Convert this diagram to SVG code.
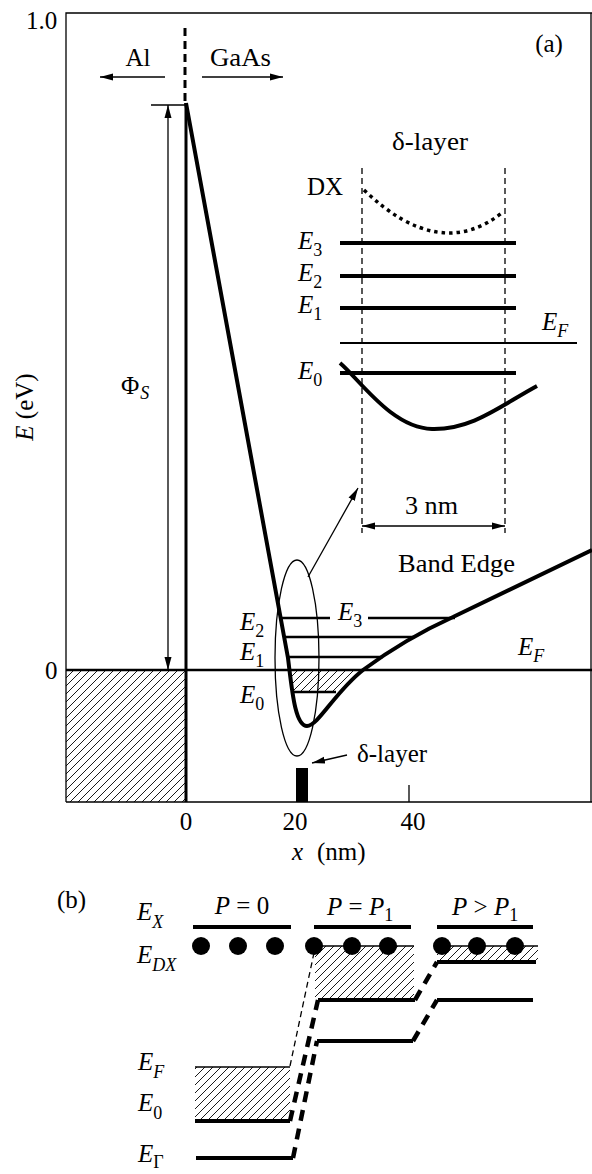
<svg xmlns="http://www.w3.org/2000/svg" width="592" height="1174" viewBox="0 0 592 1174">
<style>
text{font-family:"Liberation Serif","Times New Roman",serif;font-size:25px;fill:#000}
.it{font-style:italic}
.sub{font-size:18px}
.up{font-style:normal}
.thin{stroke:#000;stroke-width:1.3;fill:none}
.med{stroke:#000;stroke-width:2.5;fill:none}
.thick{stroke:#000;stroke-width:4;fill:none}
.dashv{stroke:#000;stroke-width:1.3;stroke-dasharray:6 4;fill:none}
.tdash{stroke:#000;stroke-width:4.5;stroke-dasharray:11 8;fill:none}
</style>
<defs>
<pattern id="hatch" patternUnits="userSpaceOnUse" width="8" height="8">
<path d="M-1,9 L9,-1 M-1,1 L1,-1 M7,9 L9,7" stroke="#000" stroke-width="0.9"/>
</pattern>
<marker id="arr" markerUnits="userSpaceOnUse" markerWidth="14" markerHeight="10" refX="13" refY="5" orient="auto-start-reverse">
<path d="M0,1.5 L13,5 L0,8.5 Z" fill="#000"/>
</marker>
</defs>

<g id="axes">
<path class="thin" d="M66,802 L66,13 L592,13 M591,13 L591,802 M66,802 L592,802"/>
<line class="thin" x1="409" y1="785" x2="409" y2="802"/>
<text x="26" y="29">1.0</text>
<text x="45" y="679">0</text>
<text x="186" y="830" text-anchor="middle">0</text>
<text x="295" y="830" text-anchor="middle">20</text>
<text x="413" y="830" text-anchor="middle">40</text>
<text x="292" y="860" class="it">x</text>
<text x="317" y="860">(nm)</text>
<text transform="translate(33,407) rotate(-90)" text-anchor="middle"><tspan class="it">E</tspan> (eV)</text>
<text x="549" y="52" text-anchor="middle">(a)</text>
</g>

<g id="fills">
<rect x="66" y="670" width="120" height="132" fill="url(#hatch)"/>
<polygon points="289,670 363,670 340,692 293,692" fill="url(#hatch)"/>
<rect x="195" y="1067" width="95" height="54" fill="url(#hatch)"/>
<rect x="315" y="946" width="99" height="54" fill="url(#hatch)"/>
<rect x="437" y="946" width="101" height="16" fill="url(#hatch)"/>
</g>

<g id="interface">
<line x1="185" y1="28" x2="185" y2="103" stroke="#000" stroke-width="3" stroke-dasharray="8 5"/>
<line x1="186" y1="103" x2="186" y2="802" stroke="#000" stroke-width="3"/>
<text x="138" y="66" text-anchor="middle">Al</text>
<text x="210" y="66" textLength="61" lengthAdjust="spacingAndGlyphs">GaAs</text>
</g>

<g id="phi">
<line class="thin" x1="151" y1="105" x2="186" y2="105"/>
<text x="121" y="394">Φ<tspan class="sub it" dx="1" dy="5">S</tspan></text>
</g>

<g id="fermi">
<line x1="66" y1="670" x2="592" y2="670" stroke="#000" stroke-width="2.5"/>
<text x="518" y="655" class="it">E<tspan class="sub" dy="7">F</tspan></text>
</g>

<g id="bandedge">
<path class="thick" d="M186,103 L288,658 C292,690 295,726 307,726 C318,726 335,692 363,670 C390,650 420,632 453,617 L592,550"/>
<text x="398" y="572" textLength="117" lengthAdjust="spacingAndGlyphs">Band Edge</text>
</g>

<g id="levels">
<line class="med" x1="280" y1="618" x2="330" y2="618"/>
<line class="med" x1="368" y1="618" x2="455" y2="618"/>
<line class="med" x1="285" y1="637" x2="415" y2="637"/>
<line class="med" x1="288" y1="657" x2="383" y2="657"/>
<line class="med" x1="294" y1="692" x2="336" y2="692"/>
<text x="338" y="620" class="it">E<tspan class="sub up" dy="7">3</tspan></text>
<text x="240" y="630" class="it">E<tspan class="sub up" dy="7">2</tspan></text>
<text x="240" y="660" class="it">E<tspan class="sub up" dy="7">1</tspan></text>
<text x="240" y="703" class="it">E<tspan class="sub up" dy="7">0</tspan></text>
</g>

<g id="ellipse">
<ellipse class="thin" cx="297" cy="658" rx="22" ry="98"/>
</g>

<g id="deltalayer">
<rect x="296" y="768" width="12" height="34" fill="#000"/>
<text x="357" y="762">δ-layer</text>
</g>

<g id="inset">
<text x="392" y="150" textLength="76" lengthAdjust="spacingAndGlyphs">δ-layer</text>
<line class="dashv" x1="362" y1="168" x2="362" y2="533"/>
<line class="dashv" x1="505" y1="168" x2="505" y2="533"/>
<text x="307" y="195">DX</text>
<path d="M364,190 Q440,263 503,212" fill="none" stroke="#000" stroke-width="3.5" stroke-dasharray="3.5 4"/>
<line class="thick" x1="340" y1="243" x2="516" y2="243"/>
<line class="thick" x1="340" y1="276" x2="516" y2="276"/>
<line class="thick" x1="340" y1="308" x2="516" y2="308"/>
<line x1="340" y1="343" x2="577" y2="343" stroke="#000" stroke-width="2"/>
<line class="thick" x1="340" y1="373" x2="516" y2="373"/>
<path class="thick" d="M340,363 C360,380 392,428 432,429 C472,430 500,406 537,386"/>
<text x="298" y="249" class="it">E<tspan class="sub up" dy="7">3</tspan></text>
<text x="298" y="281" class="it">E<tspan class="sub up" dy="7">2</tspan></text>
<text x="298" y="313" class="it">E<tspan class="sub up" dy="7">1</tspan></text>
<text x="298" y="379" class="it">E<tspan class="sub up" dy="7">0</tspan></text>
<text x="542" y="330" class="it">E<tspan class="sub" dy="7">F</tspan></text>
<text x="405" y="514" textLength="53" lengthAdjust="spacingAndGlyphs">3 nm</text>
</g>

<g id="connectors">
<line x1="165" y1="77" x2="100" y2="77" class="thin" marker-end="url(#arr)"/>
<line x1="202" y1="77" x2="283" y2="77" class="thin" marker-end="url(#arr)"/>
<line x1="168" y1="105" x2="168" y2="670" class="thin" marker-start="url(#arr)" marker-end="url(#arr)"/>
<line x1="362" y1="526" x2="505" y2="526" class="thin" marker-start="url(#arr)" marker-end="url(#arr)"/>
<line x1="308" y1="577" x2="358" y2="488" class="thin" marker-end="url(#arr)"/>
<line x1="347" y1="755" x2="312" y2="763" class="thin" marker-end="url(#arr)"/>
<line x1="290" y1="1066" x2="315" y2="948" class="dashv"/>
<line x1="290" y1="1121" x2="318" y2="1000" class="tdash"/>
<line x1="293" y1="1158" x2="317" y2="1041" class="tdash"/>
<line x1="415" y1="1000" x2="437" y2="962" class="tdash"/>
<line x1="413" y1="1041" x2="437" y2="1000" class="tdash"/>
</g>

<g id="partb-labels">
<text x="57" y="908">(b)</text>
<text x="137" y="920" class="it">E<tspan class="sub" dy="8">X</tspan></text>
<text x="137" y="963" class="it">E<tspan class="sub" dy="8">DX</tspan></text>
<text x="138" y="1070" class="it">E<tspan class="sub" dy="8">F</tspan></text>
<text x="138" y="1111" class="it">E<tspan class="sub up" dy="8">0</tspan></text>
<text x="138" y="1162" class="it">E<tspan class="sub up" dy="6">Γ</tspan></text>
</g>

<g id="p0">
<text x="242" y="914" text-anchor="middle"><tspan class="it">P</tspan> = 0</text>
<line class="thick" x1="193" y1="927" x2="291" y2="927"/>
<circle cx="201" cy="946" r="9"/>
<circle cx="238" cy="946" r="9"/>
<circle cx="275" cy="946" r="9"/>
<line class="thin" x1="195" y1="1067" x2="290" y2="1067"/>
<line class="thick" x1="195" y1="1121" x2="290" y2="1121"/>
<line class="thick" x1="196" y1="1158" x2="293" y2="1158"/>
</g>

<g id="p1">
<text x="327" y="915"><tspan class="it">P</tspan> = <tspan class="it">P</tspan><tspan class="sub" dy="6">1</tspan></text>
<line class="thick" x1="314" y1="927" x2="411" y2="927"/>
<line class="thin" x1="314" y1="946" x2="414" y2="946"/>
<circle cx="314" cy="946" r="9"/>
<circle cx="352" cy="946" r="9"/>
<circle cx="388" cy="946" r="9"/>
<line class="thick" x1="318" y1="1000" x2="415" y2="1000"/>
<line class="thick" x1="317" y1="1041" x2="413" y2="1041"/>
</g>

<g id="p2">
<text x="452" y="915"><tspan class="it">P</tspan> &gt; <tspan class="it">P</tspan><tspan class="sub" dy="6">1</tspan></text>
<line class="thick" x1="437" y1="927" x2="533" y2="927"/>
<line class="thin" x1="437" y1="946" x2="538" y2="946"/>
<circle cx="442" cy="946" r="9"/>
<circle cx="477" cy="946" r="9"/>
<circle cx="515" cy="946" r="9"/>
<line class="thick" x1="437" y1="962" x2="536" y2="962"/>
<line class="thick" x1="437" y1="1000" x2="533" y2="1000"/>
</g>
</svg>
